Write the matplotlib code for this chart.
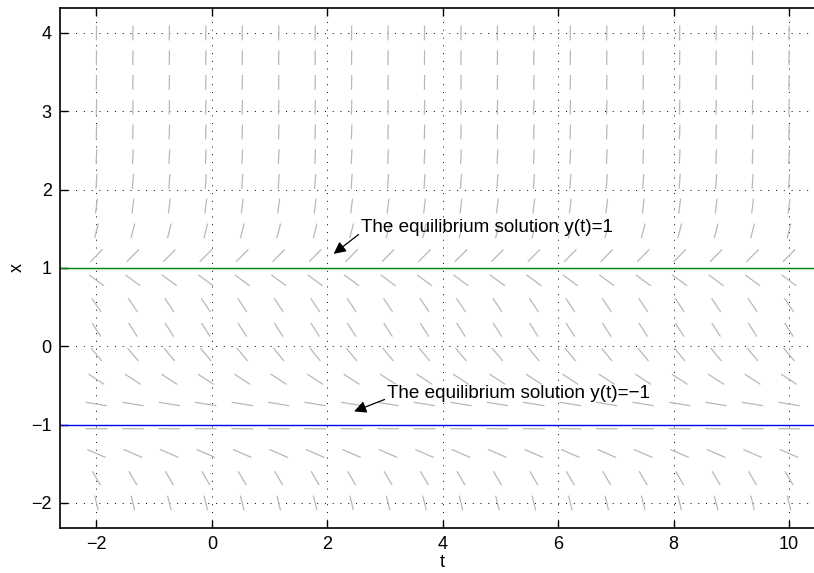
import numpy as np
import matplotlib
matplotlib.use("Agg")
import matplotlib.pyplot as plt
from matplotlib.collections import LineCollection

plt.rcParams['font.family'] = ['Liberation Sans', 'DejaVu Sans']

# grid of direction-field sample points
t_points = np.linspace(-2, 10, 20)
x_rows = np.linspace(-2, 4, 20)
# slope dx/dt read per row (bottom to top)
row_slopes = [-3.0, -1.26, -0.32, -0.006, -0.12, -0.48, -0.89, -1.16, -1.10, -0.54,
              0.74, 2.9, 6.1, 10.6, 16.6, 24.3, 33.7, 45.2, 58.9, 75.0]
equilibria = [-1, 1]
eq_colors = ['#0000ff', '#008000']
xticks = [-2, 0, 2, 4, 6, 8, 10]
yticks = [-2, -1, 0, 1, 2, 3, 4]
labels = ["The equilibrium solution y(t)=1", "The equilibrium solution y(t)=\u22121"]

fig = plt.figure(figsize=(8.14, 5.73), dpi=100)
ax = fig.add_axes([0.0737, 0.0791, 0.9404, 0.9065])

dt = t_points[1] - t_points[0]
dx = x_rows[1] - x_rows[0]
segs = []
for xr, m in zip(x_rows, row_slopes):
    # direction in grid-normalised space, fixed length
    gu, gv = 1.0 / dt, m / dx
    n = np.hypot(gu, gv)
    hu = 0.3 * (gu / n) * dt
    hv = 0.3 * (gv / n) * dx
    for tp in t_points:
        segs.append([(tp - hu, xr - hv), (tp + hu, xr + hv)])
ax.add_collection(LineCollection(segs, colors='#b8b8b8', linewidths=0.9))

ax.set_xlim(t_points[0] - dt, t_points[-1] + dt)
ax.set_ylim(x_rows[0] - dx, x_rows[-1] + dx)

for e, c in zip(equilibria, eq_colors):
    ax.plot(ax.get_xlim(), [e, e], color=c, lw=1.0)

ax.set_xticks(xticks)
ax.set_yticks(yticks)
ax.set_xticklabels([str(v).replace('-', '\u2212') for v in xticks])
ax.set_yticklabels([str(v).replace('-', '\u2212') for v in yticks])
ax.tick_params(direction='in', length=6, width=1, top=True, right=True, labelsize=13, pad=6)
ax.grid(True, color='black', linestyle=(0, (1, 7)), linewidth=0.7)
for s in ax.spines.values():
    s.set_linewidth(1.2)
ax.set_xlabel('t', fontsize=13, labelpad=1)
ax.set_ylabel('x', fontsize=13, labelpad=4)

ax.annotate(labels[0], xy=(2.11, 1.18), xytext=(2.59, 1.52), fontsize=13.6,
            va='center', ha='left',
            arrowprops=dict(arrowstyle='-|>', color='black', lw=0.9, mutation_scale=18,
                            shrinkA=0, shrinkB=0, relpos=(0, 0.2)))
ax.annotate(labels[1], xy=(2.33, -0.87), xytext=(3.04, -0.60), fontsize=13.6,
            va='center', ha='left',
            arrowprops=dict(arrowstyle='-|>', color='black', lw=0.9, mutation_scale=18,
                            shrinkA=0, shrinkB=6, relpos=(0, 0.2)))

fig.savefig('out.png', dpi=100)
